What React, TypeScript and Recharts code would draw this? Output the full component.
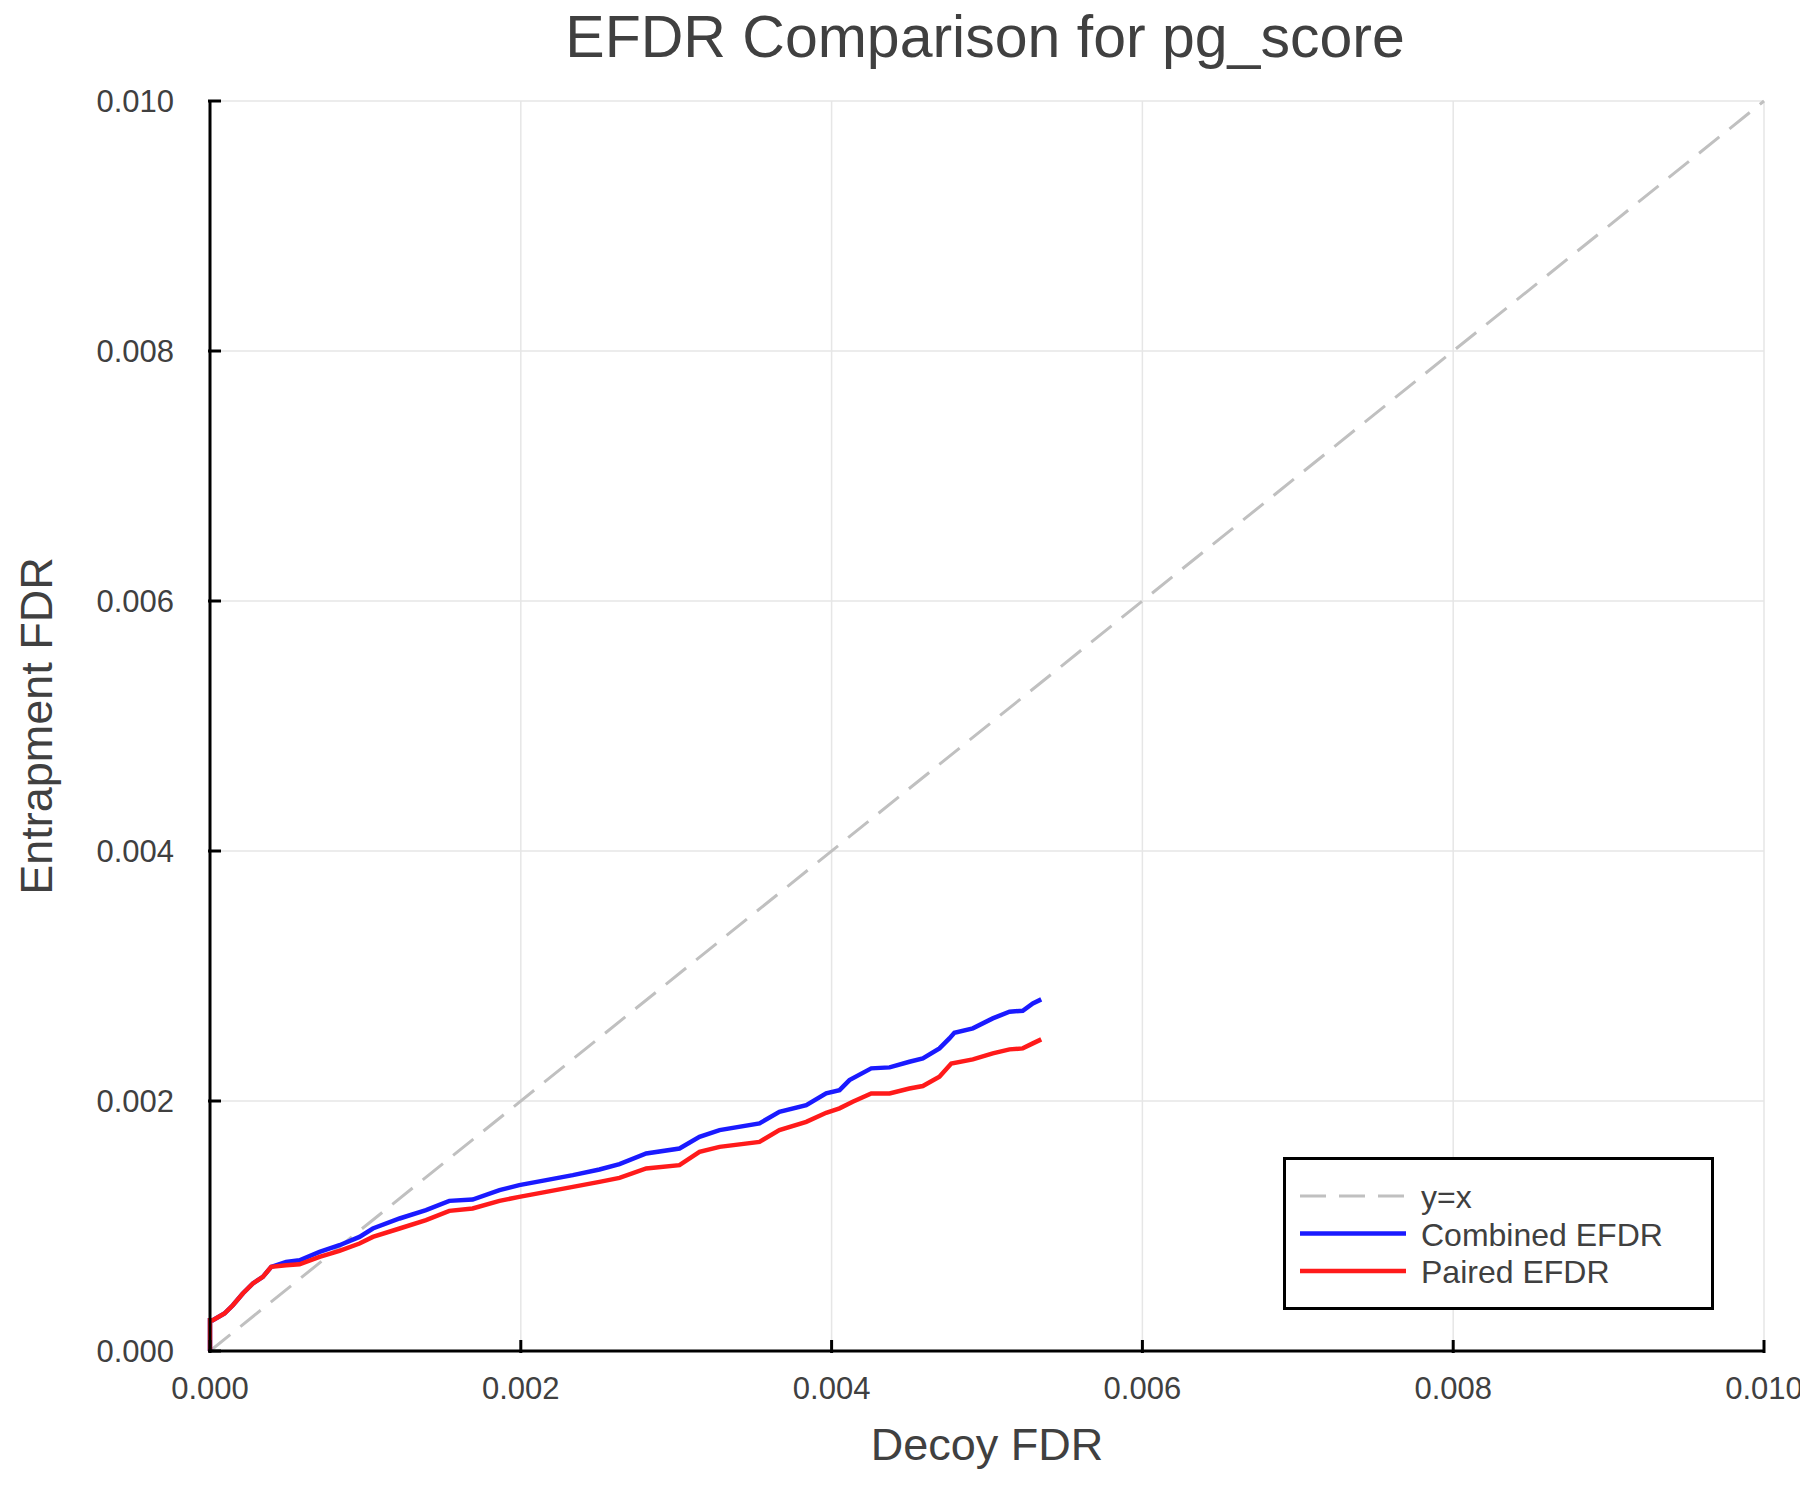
import React from "react";
import {
  LineChart,
  Line,
  XAxis,
  YAxis,
  CartesianGrid,
  Legend,
} from "recharts";

const TITLE = "EFDR Comparison for pg_score";
const X_LABEL = "Decoy FDR";
const Y_LABEL = "Entrapment FDR";

const AXIS_TICKS = [0, 0.002, 0.004, 0.006, 0.008, 0.01];

const COMBINED_X = [
  0, 0, 0.000018, 0.000093, 0.000147, 0.000211, 0.000276, 0.00034, 0.000394, 0.00049,
  0.000576, 0.000705, 0.000833, 0.000962, 0.001048, 0.00122, 0.00139, 0.00154, 0.00169,
  0.001863, 0.00199, 0.002163, 0.002335, 0.002506, 0.002635, 0.002807, 0.003021, 0.00315,
  0.003279, 0.003536, 0.003664, 0.003837, 0.003965, 0.004051, 0.004115, 0.004255, 0.004373,
  0.004501, 0.004587, 0.004694, 0.004758, 0.00479, 0.004909, 0.005037, 0.005145, 0.00523,
  0.005295, 0.005349,
];
const COMBINED_Y = [
  0, 0.000246, 0.000246, 0.0003, 0.000366, 0.00046, 0.00054, 0.000593, 0.000673, 0.000713,
  0.000726, 0.000793, 0.000846, 0.000913, 0.00098, 0.00106, 0.001127, 0.001201, 0.001212,
  0.001287, 0.001327, 0.001367, 0.001407, 0.001452, 0.001495, 0.00158, 0.00162, 0.001713,
  0.001767, 0.001821, 0.001914, 0.001967, 0.002061, 0.002087, 0.002167, 0.002261, 0.002269,
  0.002314, 0.002341, 0.002421, 0.002501, 0.002546, 0.002581, 0.002661, 0.002714, 0.002722,
  0.002781, 0.002813,
];

const PAIRED_X = [
  0, 0, 0.000018, 0.000093, 0.000147, 0.000211, 0.000276, 0.00034, 0.000394, 0.00049,
  0.000576, 0.000705, 0.000833, 0.000962, 0.001048, 0.00122, 0.00139, 0.00154, 0.00169,
  0.001863, 0.00199, 0.002163, 0.002335, 0.002506, 0.002635, 0.002807, 0.003021, 0.00315,
  0.003279, 0.003536, 0.003664, 0.003837, 0.003965, 0.004051, 0.004136, 0.004255, 0.004373,
  0.004501, 0.004587, 0.004694, 0.00477, 0.004909, 0.005037, 0.005145, 0.00523, 0.005295,
  0.005349,
];
const PAIRED_Y = [
  0, 0.000246, 0.000246, 0.0003, 0.000366, 0.00046, 0.00054, 0.000593, 0.000673, 0.000686,
  0.000694, 0.000753, 0.000801, 0.00086, 0.000913, 0.00098, 0.001047, 0.001121, 0.00114,
  0.001201, 0.001233, 0.001273, 0.001313, 0.001353, 0.001385, 0.00146, 0.001487, 0.001593,
  0.001633, 0.001673, 0.001767, 0.001833, 0.001906, 0.001941, 0.001994, 0.002061, 0.002061,
  0.0021, 0.00212, 0.002194, 0.0023, 0.002333, 0.002381, 0.002413, 0.002421, 0.002461,
  0.002493,
];

// diagonal reference
const IDENTITY_X = [0, 0.01];
const IDENTITY_Y = [0, 0.01];

const zip = (xs: number[], ys: number[]) => xs.map((x, i) => ({ x, y: ys[i] }));

const SERIES = [
  { name: "y=x", color: "#c0c0c0", dash: "26 13", width: 3, data: zip(IDENTITY_X, IDENTITY_Y) },
  { name: "Combined EFDR", color: "#1a1aff", dash: undefined, width: 4.5, data: zip(COMBINED_X, COMBINED_Y) },
  { name: "Paired EFDR", color: "#ff1a1a", dash: undefined, width: 4.5, data: zip(PAIRED_X, PAIRED_Y) },
];

const FONT = "'Liberation Sans', Helvetica, Arial, sans-serif";
const TEXT = "#404040";

const fmt = (v: number) => v.toFixed(3);

function YTick(props: any) {
  const { x, y, payload } = props;
  return (
    <g>
      <line x1={x} x2={x + 13} y1={y} y2={y} stroke="#000" strokeWidth={3} />
      <text x={x - 34} y={y + 11} textAnchor="end" fontSize={31} fontFamily={FONT} fill={TEXT}>
        {fmt(payload.value)}
      </text>
    </g>
  );
}

function XTick(props: any) {
  const { x, y, payload } = props;
  return (
    <g>
      <line x1={x} x2={x} y1={y} y2={y - 13} stroke="#000" strokeWidth={3} />
      <text x={x} y={y + 46} textAnchor="middle" fontSize={31} fontFamily={FONT} fill={TEXT}>
        {fmt(payload.value)}
      </text>
    </g>
  );
}

function LegendBox() {
  return (
    <svg width={432} height={154} style={{ display: "block" }}>
      <rect x={1.5} y={1.5} width={428} height={150} fill="#fff" stroke="#000" strokeWidth={3} />
      {SERIES.map((s, i) => (
        <g key={s.name}>
          <line
            x1={17}
            x2={123}
            y1={39 + i * 37.5}
            y2={39 + i * 37.5}
            stroke={s.color}
            strokeWidth={s.width}
            strokeDasharray={s.dash}
          />
          <text x={138} y={51 + i * 37.5} fontSize={32} fontFamily={FONT} fill={TEXT}>
            {s.name}
          </text>
        </g>
      ))}
    </svg>
  );
}

export default function App() {
  return (
    <div style={{ position: "absolute", left: 0, top: 0, width: 1800, height: 1500, background: "#fff" }}>
      <LineChart width={1800} height={1500} margin={{ top: 101, right: 36, left: 0, bottom: 0 }}>
        <CartesianGrid stroke="#e6e6e6" strokeWidth={1.5} />
        <XAxis
          type="number"
          dataKey="x"
          domain={[0, 0.01]}
          ticks={AXIS_TICKS}
          interval={0}
          height={149}
          tickSize={0}
          tickLine={false}
          axisLine={{ stroke: "#000", strokeWidth: 3 }}
          tick={<XTick />}
          label={{
            value: X_LABEL,
            position: "insideBottom",
            offset: 40,
            fontSize: 45,
            fontFamily: FONT,
            fill: TEXT,
          }}
        />
        <YAxis
          type="number"
          dataKey="y"
          domain={[0, 0.01]}
          ticks={AXIS_TICKS}
          interval={0}
          width={210}
          tickSize={0}
          tickLine={false}
          axisLine={{ stroke: "#000", strokeWidth: 3 }}
          tick={<YTick />}
          label={{
            value: Y_LABEL,
            content: (p: any) => {
              const vb = p.viewBox;
              const cx = vb.x + 52;
              const cy = vb.y + vb.height / 2;
              return (
                <text
                  x={cx}
                  y={cy}
                  transform={`rotate(-90 ${cx} ${cy})`}
                  textAnchor="middle"
                  fontSize={45}
                  fontFamily={FONT}
                  fill={TEXT}
                >
                  {Y_LABEL}
                </text>
              );
            },
          }}
        />
        {SERIES.map((s) => (
          <Line
            key={s.name}
            data={s.data}
            dataKey="y"
            name={s.name}
            type="linear"
            stroke={s.color}
            strokeWidth={s.width}
            strokeDasharray={s.dash}
            dot={false}
            activeDot={false}
            isAnimationActive={false}
          />
        ))}
        <Legend
          layout="vertical"
          align="center"
          verticalAlign="middle"
          content={() => <LegendBox />}
          wrapperStyle={{ left: 1283, top: 1157, width: 432, height: 154 }}
        />
      </LineChart>
      <svg
        width={1800}
        height={110}
        style={{ position: "absolute", left: 0, top: 0, pointerEvents: "none" }}
      >
        <text x={985} y={57} textAnchor="middle" fontSize={59} fontFamily={FONT} fill={TEXT}>
          {TITLE}
        </text>
      </svg>
    </div>
  );
}
